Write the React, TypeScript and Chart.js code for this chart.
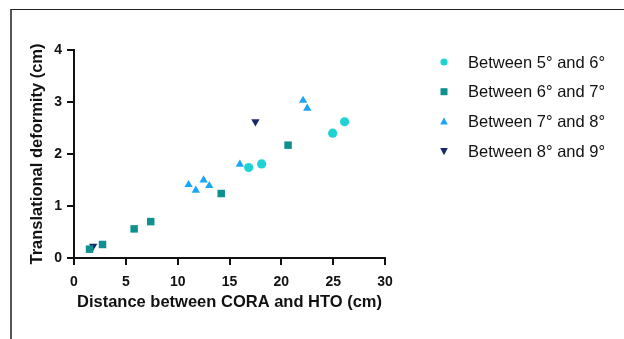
import React, { useEffect, useRef } from "react";
import { Chart, registerables } from "chart.js";

Chart.register(...registerables);

const seriesLabels = ["Between 5° and 6°", "Between 6° and 7°", "Between 7° and 8°", "Between 8° and 9°"];
const seriesColors = ["#1fd3d5", "#0f9090", "#1aa6f7", "#15296a"];

const s1x = [16.85, 18.1, 24.95, 26.1];
const s1y = [1.74, 1.81, 2.4, 2.62];
const s2x = [1.5, 2.75, 5.8, 7.4, 14.2, 20.65];
const s2y = [0.17, 0.26, 0.56, 0.7, 1.24, 2.17];
const s3x = [11.05, 11.75, 12.5, 13.05, 16.0, 22.1, 22.5];
const s3y = [1.41, 1.3, 1.5, 1.39, 1.8, 3.03, 2.88];
const s4x = [1.85, 17.5];
const s4y = [0.23, 2.62];

const xTicks = [0, 5, 10, 15, 20, 25, 30];
const yTicks = [0, 1, 2, 3, 4];

const FONT = "Arial, 'Liberation Sans', Helvetica, sans-serif";

function pts(xs: number[], ys: number[]) {
  return xs.map((x, i) => ({ x, y: ys[i] }));
}

const legendPlugin = {
  id: "customLegend",
  afterDraw(chart: any) {
    const ctx = chart.ctx as CanvasRenderingContext2D;
    const startY = 62;
    const gap = 29.7;
    const mx = 444;
    const tx = 468;
    ctx.save();
    ctx.font = `16.5px ${FONT}`;
    ctx.textBaseline = "middle";
    ctx.textAlign = "left";
    chart.data.datasets.forEach((ds: any, i: number) => {
      const y = startY + i * gap;
      ctx.fillStyle = ds.backgroundColor;
      ctx.beginPath();
      const style = ds.pointStyle;
      if (style === "circle") {
        ctx.arc(mx, y, 3.6, 0, Math.PI * 2);
      } else if (style === "rect") {
        ctx.rect(mx - 3.5, y - 3.5, 7, 7);
      } else if (style === "triangle" && !ds.rotation) {
        ctx.moveTo(mx, y - 4.2);
        ctx.lineTo(mx + 3.8, y + 3);
        ctx.lineTo(mx - 3.8, y + 3);
        ctx.closePath();
      } else {
        ctx.moveTo(mx, y + 4.2);
        ctx.lineTo(mx + 3.8, y - 3);
        ctx.lineTo(mx - 3.8, y - 3);
        ctx.closePath();
      }
      ctx.fill();
      ctx.fillStyle = "#111";
      ctx.fillText(ds.label, tx, y + 1);
    });
    ctx.restore();
  },
};

export default function App() {
  const ref = useRef<HTMLCanvasElement | null>(null);
  useEffect(() => {
    document.body.style.margin = "0";
    const canvas = ref.current!;
    const shapes = [
      { pointStyle: "circle", radius: 4.6, rotation: 0 },
      { pointStyle: "rect", radius: 5.3, rotation: 0 },
      { pointStyle: "triangle", radius: 4.8, rotation: 0 },
      { pointStyle: "triangle", radius: 4.8, rotation: 180 },
    ];
    const data = [pts(s1x, s1y), pts(s2x, s2y), pts(s3x, s3y), pts(s4x, s4y)];
    const chart = new Chart(canvas, {
      type: "scatter",
      data: {
        datasets: data.map((d, i) => ({
          label: seriesLabels[i],
          data: d,
          backgroundColor: seriesColors[i],
          borderColor: seriesColors[i],
          borderWidth: 0,
          pointStyle: shapes[i].pointStyle as any,
          pointRadius: shapes[i].radius,
          pointRotation: shapes[i].rotation,
          rotation: shapes[i].rotation,
        })) as any,
      },
      options: {
        animation: false,
        responsive: false,
        maintainAspectRatio: false,
        layout: { padding: { left: 28, top: 50, right: 239, bottom: 27 } },
        plugins: { legend: { display: false }, tooltip: { enabled: false } },
        scales: {
          x: {
            type: "linear",
            min: 0,
            max: 30,
            afterBuildTicks: (s: any) => {
              s.ticks = xTicks.map((v) => ({ value: v }));
            },
            afterFit: (s: any) => {
              s.height = 54;
            },
            border: { display: true, color: "#111", width: 2 },
            grid: { display: true, drawOnChartArea: false, drawTicks: true, tickLength: 7, color: "#111", lineWidth: 2 },
            ticks: { color: "#111", font: { family: FONT, size: 14, weight: "bold" }, padding: 9, maxRotation: 0 },
            title: { display: true, text: "Distance between CORA and HTO (cm)", color: "#111", font: { family: FONT, size: 16.5, weight: "bold" }, padding: { top: 2, bottom: 0 } },
          },
          y: {
            type: "linear",
            min: 0,
            max: 4,
            afterBuildTicks: (s: any) => {
              s.ticks = yTicks.map((v) => ({ value: v }));
            },
            afterFit: (s: any) => {
              s.width = 46;
            },
            border: { display: true, color: "#111", width: 2 },
            grid: { display: true, drawOnChartArea: false, drawTicks: true, tickLength: 7, color: "#111", lineWidth: 2 },
            ticks: { color: "#111", font: { family: FONT, size: 14, weight: "bold" }, padding: 5 },
            title: { display: true, text: "Translational deformity (cm)", color: "#111", font: { family: FONT, size: 16.5, weight: "bold" }, padding: { top: 0, bottom: 0 } },
          },
        },
      },
      plugins: [legendPlugin],
    });
    return () => chart.destroy();
  }, []);
  return (
    <div style={{ position: "relative", width: 624, height: 339, background: "#fff", overflow: "hidden" }}>
      <div
        style={{
          position: "absolute",
          left: 10,
          top: 9,
          width: 700,
          height: 400,
          borderTop: "1.5px solid #222",
          borderLeft: "2px solid #555",
        }}
      />
      <canvas ref={ref} width={624} height={339} style={{ position: "absolute", left: 0, top: 0, width: 624, height: 339 }} />
    </div>
  );
}
